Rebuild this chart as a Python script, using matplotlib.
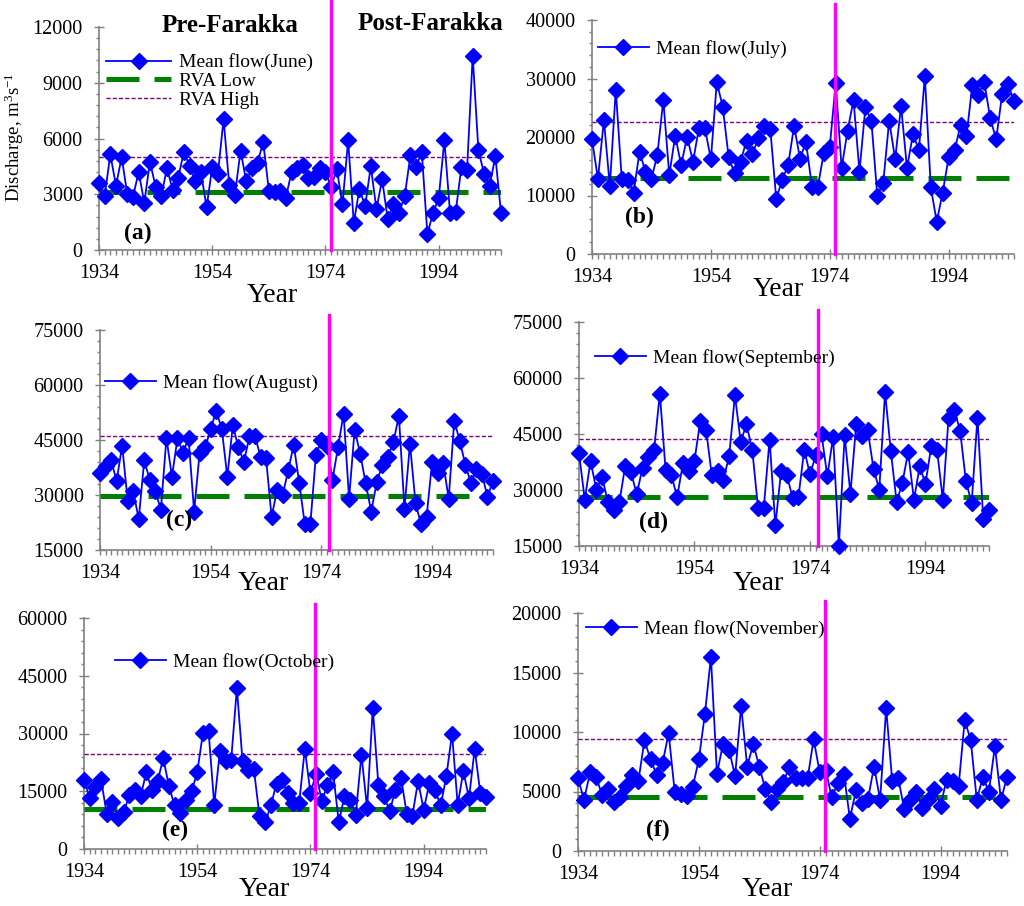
import matplotlib
matplotlib.use('Agg')
import matplotlib.pyplot as plt
import numpy as np
from matplotlib.ticker import MultipleLocator

plt.rcParams['font.family'] = ['Liberation Serif', 'DejaVu Serif']
plt.rcParams['mathtext.fontset'] = 'custom'
plt.rcParams['mathtext.rm'] = 'Liberation Serif'
plt.rcParams['mathtext.it'] = 'Liberation Serif:italic'

years = np.arange(1934, 2006)

june = [3600, 2900, 5150, 3450, 5000, 3000, 2850, 4200, 2550, 4750,
        3400, 2900, 4400, 3250, 3900, 5300, 4500, 3700, 4200, 2300,
        4450, 4100, 7050, 3500, 2950, 5350, 3700, 4400, 4700, 5800,
        3200, 3100, 3200, 2800, 4200, 4400, 4600, 3900, 3950, 4400,
        4200, 3400, 4350, 2450, 5900, 1450, 3300, 2350, 4500, 2200,
        3800, 1650, 2450, 2000, 2900, 5100, 4450, 5300, 850, 2000,
        2800, 5900, 2000, 2050, 4450, 4300, 10450, 5400, 4100, 3450,
        5050, 2000]
july = [19600, 12800, 22900, 11600, 28100, 12900, 12700, 10500, 17500, 14000,
        12800, 17000, 26300, 13500, 20200, 15200, 20000, 15800, 21600, 21500,
        16200, 29400, 25100, 16500, 13800, 15800, 19400, 17100, 19900, 21900,
        21300, 9400, 12700, 15200, 21900, 16300, 19200, 11500, 11500, 17300,
        18300, 29200, 14700, 21100, 26300, 14100, 25100, 22800, 10000, 12200,
        22800, 16200, 25300, 14700, 20500, 17800, 30400, 11400, 5500, 10500,
        16500, 17700, 22000, 20200, 28900, 27200, 29400, 23200, 19600, 27300,
        29000, 26200]
august = [36000, 37800, 39500, 33800, 43500, 28500, 31000, 23500, 39500, 34000,
          31000, 26000, 45500, 35000, 45500, 41500, 45500, 25500, 41500, 43000,
          48000, 53000, 48000, 35000, 49000, 43000, 39000, 46000, 46000, 40500,
          40000, 24000, 31500, 30000, 36700, 43700, 33300, 22000, 22000, 40800,
          45000, 43500, 34200, 43000, 52200, 29000, 47800, 41300, 33200, 25500,
          33500, 38200, 40400, 44400, 51600, 26300, 44000, 27800, 22000, 24000,
          39000, 36000, 38700, 29000, 50300, 44700, 38300, 33300, 37200, 35800,
          29500, 33800]
september = [39900, 27400, 37800, 30100, 33500, 26800, 24600, 26800, 36400, 34800,
             28800, 36000, 38800, 40800, 55800, 35300, 33900, 28100, 37200, 35100,
             37900, 48500, 46200, 33900, 35100, 32800, 39000, 55400, 42900, 47600,
             40800, 25300, 25300, 43500, 20500, 35100, 33900, 27900, 28100, 40800,
             34200, 39300, 44900, 33700, 44200, 15000, 44600, 29000, 47600, 44400,
             46000, 35700, 30100, 56200, 40400, 26800, 31900, 40200, 27400, 36300,
             31700, 41700, 40800, 27400, 49400, 51500, 45800, 32400, 26500, 49400,
             22300, 24700]
october = [18000, 13200, 16100, 18200, 9200, 12100, 8100, 9500, 13900, 15200,
           13700, 19900, 15400, 17600, 23600, 16300, 11300, 9400, 12800, 15000,
           19900, 30100, 30600, 11500, 25400, 22800, 23200, 41800, 22800, 20400,
           20800, 8500, 6900, 11300, 17000, 17800, 14500, 11900, 11900, 26000,
           14500, 19600, 12400, 16700, 19900, 6900, 13700, 12800, 8900, 24500,
           10600, 36600, 16500, 13700, 9800, 15400, 18400, 9200, 8700, 17600,
           10200, 17100, 15200, 11300, 18900, 30000, 11500, 20200, 13200, 26000,
           14500, 13500]
november = [6100, 4300, 6600, 6200, 4700, 5200, 4100, 4500, 5500, 6400,
            5900, 9300, 7700, 6400, 7400, 9900, 5000, 4800, 4600, 5400,
            7700, 11500, 16300, 6500, 9000, 8500, 6300, 12200, 7100, 9000,
            7100, 5200, 4100, 5200, 5800, 7100, 6100, 6100, 6100, 9400,
            6600, 6800, 4500, 5700, 6500, 2700, 5100, 4000, 4400, 7100,
            4300, 12000, 5900, 6100, 3500, 4300, 5000, 3600, 4300, 5200,
            3800, 6000, 5900, 5500, 11000, 9300, 4300, 6200, 5000, 8800,
            4300, 6200]

months = ['June', 'July', 'August', 'September', 'October', 'November']
flows = [june, july, august, september, october, november]
rva_low = [3100, 13000, 29800, 28000, 10500, 4550]
rva_high = [5000, 22500, 46000, 43700, 24600, 9450]
y_limits = [(0, 12000), (0, 40000), (15000, 75000), (15000, 75000), (0, 60000), (0, 20000)]
y_major = [3000, 10000, 15000, 15000, 15000, 5000]
y_minor = [600, 2000, 3000, 3000, 3000, 1000]
tags = ['(a)', '(b)', '(c)', '(d)', '(e)', '(f)']
farakka_year = [1975.0, 1974.9, 1975.3, 1975.4, 1974.8, 1974.9]

# layout in pixels: axes box (l, t, r, b), legend anchor, "Year" centre, tag centre, magenta top (axes frac)
W, H = 1024, 906
layout = [
    ((99, 27, 501, 250), (106, 81), (272, 296), (138, 233), 1.12),
    ((592, 20, 1014, 254), (598, 49), (778, 289), (639, 217), 1.07),
    ((100, 330, 493, 550), (105, 383), (263, 583), (179, 520), 1.07),
    ((579, 322, 989, 546), (595, 358), (758, 583), (654, 522), 1.055),
    ((84, 618, 486, 849), (115, 662), (264, 890), (175, 830), 1.06),
    ((578, 613, 1007, 851), (586, 629), (767, 890), (658, 830), 1.05),
]

fig = plt.figure(figsize=(W / 100, H / 100), dpi=100)
grey = '#808080'


def fx(x):
    return x / W


def fy(y):
    return 1 - y / H


for i in range(6):
    (l, t, r, b), leg_xy, year_xy, tag_xy, top = layout[i]
    ax = fig.add_axes([fx(l), fy(b), (r - l) / W, (b - t) / H])
    ax.set_facecolor('none')

    ax.plot(years, flows[i], color='#0000ff', lw=1.3, marker='D', ms=8.5,
            clip_on=False, zorder=4, label='Mean flow(%s)' % months[i])
    lo = ax.axhline(rva_low[i], color='#008000', lw=3.6, zorder=3,
                    label='RVA Low' if i == 0 else '_nolegend_')
    lo.set_dashes((6.6, 3.0))
    hi = ax.axhline(rva_high[i], color='#800080', lw=1.0, zorder=3,
                    label='RVA High' if i == 0 else '_nolegend_')
    hi.set_dashes((3.0, 1.5))
    ax.axvline(farakka_year[i], ymin=0, ymax=top, color='#ff00ff', lw=2.4,
               clip_on=False, zorder=5)

    ax.set_xlim(1934, 2005)
    ax.set_ylim(*y_limits[i])
    ax.set_xticks([1934, 1954, 1974, 1994])
    ax.xaxis.set_minor_locator(MultipleLocator(1))
    ax.yaxis.set_major_locator(MultipleLocator(y_major[i]))
    ax.yaxis.set_minor_locator(MultipleLocator(y_minor[i]))

    for s in ['top', 'right']:
        ax.spines[s].set_visible(False)
    for s in ['left', 'bottom']:
        ax.spines[s].set_color(grey)
        ax.spines[s].set_linewidth(1.2)

    ax.tick_params(axis='x', which='major', direction='inout', length=7,
                   width=1, color=grey, labelsize=14.5, pad=6.5)
    ax.tick_params(axis='x', which='minor', direction='out', length=3.5,
                   width=1, color=grey)
    ax.tick_params(axis='y', which='major', direction='inout', length=7.5,
                   width=1, color=grey, labelsize=14.5, pad=8)
    ax.tick_params(axis='y', which='minor', direction='out', length=2.5,
                   width=1, color=grey)

    if i == 0:
        ax.legend(loc='center left', bbox_to_anchor=(fx(leg_xy[0]), fy(leg_xy[1])),
                  bbox_transform=fig.transFigure, frameon=False, fontsize=14,
                  numpoints=1, handlelength=3.35, handletextpad=0.4,
                  borderpad=0, borderaxespad=0, labelspacing=0.05)
    else:
        ax.legend(loc='center left', bbox_to_anchor=(fx(leg_xy[0]), fy(leg_xy[1])),
                  bbox_transform=fig.transFigure, frameon=False, fontsize=14,
                  numpoints=1, handlelength=2.6, handletextpad=0.4,
                  borderpad=0, borderaxespad=0)

    fig.text(fx(year_xy[0]), fy(year_xy[1]), 'Year', fontsize=20,
             ha='center', va='center')
    fig.text(fx(tag_xy[0]), fy(tag_xy[1]), tags[i], fontsize=17,
             fontweight='bold', ha='center', va='center')

fig.text(fx(14), fy(137), 'Discharge, m$^{3}$s$^{-1}$', fontsize=13.5,
         rotation=90, ha='center', va='center')
fig.text(fx(230), fy(25), 'Pre-Farakka', fontsize=18, fontweight='bold',
         ha='center', va='center')
fig.text(fx(430), fy(23), 'Post-Farakka', fontsize=18, fontweight='bold',
         ha='center', va='center')

fig.savefig('out.png', dpi=100)
